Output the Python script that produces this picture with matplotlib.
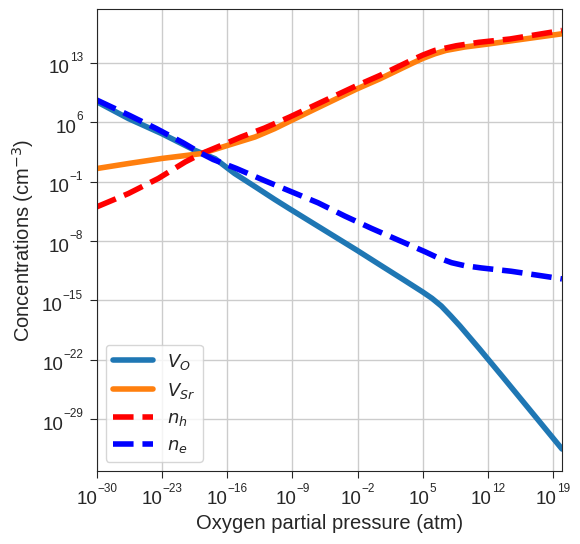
import numpy as np
import matplotlib
matplotlib.use("Agg")
import matplotlib.pyplot as plt
import seaborn as sns
from matplotlib.ticker import FixedLocator, NullLocator, NullFormatter

# log10 of oxygen partial pressure (atm) and log10 of concentration (cm^-3)
vo_x = [-30, -26.6, -23.05, -19.5, -18.75, -17.3, -15.2, -13.0, -10.9, -9.3, -2.1, 0.4, 3.0,
        5.0, 6.0, 7.0, 8.0, 9.0, 11.1, 13.6, 19.97]
vo_y = [8.4, 6.42, 4.66, 2.7, 2.35, 1.7, -0.05, -1.6, -3.1, -4.2, -9.06, -10.8, -12.6,
        -14.0, -14.75, -15.65, -16.8, -18.0, -20.7, -24.0, -32.5]

vsr_x = [-30, -26.6, -23.05, -19.5, -18.75, -15.9, -13.0, -10.9, -9.3, -2.1, 0.4, 4.0, 5.0,
         6.3, 7.5, 9.5, 12.2, 19.97]
vsr_y = [0.54, 1.13, 1.72, 2.2, 2.3, 3.28, 4.26, 5.24, 6.1, 9.9, 11.1, 13.0, 13.5,
         14.05, 14.45, 14.85, 15.23, 16.41]

nh_x = [-30, -26.6, -23.4, -20.5, -18.75, -16.6, -14.5, -12.0, -9.3, -2.1, 0.4, 4.0, 5.0,
        6.3, 8.6, 11.0, 14.4, 19.97]
nh_y = [-3.97, -2.4, -0.63, 1.32, 2.3, 3.28, 4.26, 5.3, 6.6, 10.3, 11.5, 13.4, 13.9,
        14.45, 15.0, 15.4, 15.8, 16.8]

ne_x = [-30, -26.5, -23.6, -20.7, -18.75, -17.5, -15.0, -11.95, -6.23, -3.36, -0.5, 2.36,
        5.23, 6.5, 8.1, 9.5, 11.3, 14.5, 17.8, 19.97]
ne_y = [8.6, 6.8, 5.24, 3.55, 2.3, 1.6, 0.54, -0.9, -3.5, -5.06, -6.51, -7.88,
        -9.25, -9.9, -10.55, -10.9, -11.17, -11.56, -12.1, -12.46]

x_tick_exp = list(range(-30, 20, 7))
y_tick_exp = list(range(-29, 14, 7))

sns.set_style("ticks")
plt.rcParams['font.family'] = ['Liberation Sans', 'DejaVu Sans']

fig = plt.figure(figsize=(5.8, 5.44), dpi=100)
ax = fig.add_axes([0.167, 0.134, 0.802, 0.849])

def p(v):
    return 10.0 ** np.array(v)

ax.plot(p(vo_x), p(vo_y), color='#1f77b4', lw=4, label=r'$V_O$')
ax.plot(p(vsr_x), p(vsr_y), color='#ff7f0e', lw=4, label=r'$V_{Sr}$')
ax.plot(p(nh_x), p(nh_y), color='red', lw=4, ls='--', label=r'$n_h$')
ax.plot(p(ne_x), p(ne_y), color='blue', lw=4, ls='--', label=r'$n_e$')

ax.set_xscale('log')
ax.set_yscale('log')
ax.set_xlim(1e-30, 10 ** 19.97)
ax.set_ylim(10 ** -35.1, 10 ** 19.3)
ax.xaxis.set_major_locator(FixedLocator(p(x_tick_exp)))
ax.yaxis.set_major_locator(FixedLocator(p(y_tick_exp)))
ax.xaxis.set_minor_locator(NullLocator())
ax.yaxis.set_minor_locator(NullLocator())
ax.xaxis.set_major_formatter(NullFormatter())
ax.yaxis.set_major_formatter(NullFormatter())
ax.grid(True, color='#cccccc', lw=1)
ax.tick_params(length=5, color='.15')

# tick labels "10" with a raised exponent
FB, FS, RAISE = 13.5, 8.5, 9.0
renderer = fig.canvas.get_renderer()
to_pt = 72.0 / fig.dpi

def make_label(xy, xycoords):
    b = ax.annotate('10', xy=xy, xycoords=xycoords, xytext=(0, 0), textcoords='offset points',
                    ha='left', va='baseline', fontsize=FB, color='.15')
    return b

for e in x_tick_exp:
    xy = (10.0 ** e, 0)
    coords = ('data', 'axes fraction')
    b = make_label(xy, coords)
    s = ax.annotate(str(e).replace('-', '\u2212'), xy=xy, xycoords=coords, xytext=(0, 0),
                    textcoords='offset points', ha='left', va='baseline', fontsize=FS, color='.15')
    wb = b.get_window_extent(renderer).width * to_pt
    ws = s.get_window_extent(renderer).width * to_pt
    x0 = -(wb + ws) / 2
    b.xyann = (x0, -23.8)
    s.xyann = (x0 + wb, -23.8 + RAISE)

for e in y_tick_exp:
    xy = (0, 10.0 ** e)
    coords = ('axes fraction', 'data')
    b = make_label(xy, coords)
    s = ax.annotate(str(e).replace('-', '\u2212'), xy=xy, xycoords=coords, xytext=(0, 0),
                    textcoords='offset points', ha='left', va='baseline', fontsize=FS, color='.15')
    wb = b.get_window_extent(renderer).width * to_pt
    ws = s.get_window_extent(renderer).width * to_pt
    b.xyann = (-10 - wb - ws, -7.6)
    s.xyann = (-10 - ws, -7.6 + RAISE)

ax.set_xlabel('Oxygen partial pressure (atm)', fontsize=14.5, color='.15')
ax.set_ylabel(r'Concentrations (cm$^{-3}$)', fontsize=14.5, color='.15')
ax.xaxis.set_label_coords(0.5, -0.093)
ax.yaxis.set_label_coords(-0.13, 0.5)
ax.legend(loc='lower left', fontsize=13, handlelength=2.2)

fig.savefig('out.png', dpi=100)
